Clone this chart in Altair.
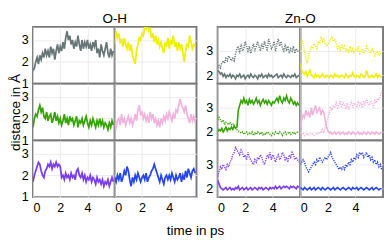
import altair as alt
import pandas as pd

# time axis (ps), sampled every 0.1 ps
t = [round(i * 0.1, 1) for i in range(60)]

# ---------- O-H distances (Å) ----------
oh_gray = [1.6, 1.7, 2.0, 2.2, 1.9, 2.3, 2.1, 2.4, 2.2, 2.6,
           2.3, 2.5, 2.2, 2.7, 2.4, 2.6, 2.1, 2.5, 2.8, 2.4,
           2.7, 2.5, 2.9, 2.6, 3.1, 3.4, 3.0, 3.2, 2.8, 3.0,
           2.6, 2.9, 2.7, 3.2, 2.8, 2.5, 3.0, 2.6, 2.9, 2.7,
           3.0, 2.6, 2.8, 2.5, 2.9, 2.7, 3.0, 2.4, 2.6, 2.2,
           2.8, 2.5, 2.3, 2.6, 2.9, 2.4, 2.2, 2.6, 2.3, 2.5]
oh_yellow = [2.8, 3.4, 3.1, 3.3, 2.9, 3.0, 2.7, 3.1, 2.8, 2.6,
             2.9, 2.5, 2.8, 2.3, 2.1, 1.9, 2.5, 2.8, 3.1, 3.0,
             3.3, 3.2, 3.6, 3.5, 3.6, 3.4, 3.5, 3.1, 3.3, 2.9,
             3.2, 2.8, 3.0, 2.7, 2.9, 2.6, 2.4, 2.9, 2.7, 3.1,
             2.6, 3.0, 2.8, 3.2, 2.7, 2.9, 2.5, 2.9, 2.6, 2.8,
             2.4, 2.0, 2.5, 2.8, 2.7, 3.2, 2.9, 2.6, 2.8, 2.7]
oh_green = [1.6, 2.0, 2.2, 2.1, 2.4, 2.6, 2.3, 2.5, 2.1, 2.0,
            2.3, 1.9, 2.1, 2.2, 1.8, 2.0, 2.3, 1.9, 2.1, 1.8,
            2.0, 1.7, 1.9, 2.2, 1.8, 2.0, 1.7, 2.1, 1.9, 2.0,
            1.7, 1.9, 2.1, 1.6, 1.9, 1.8, 2.0, 1.7, 1.9, 2.1,
            1.8, 1.6, 1.9, 1.7, 2.0, 1.8, 1.6, 1.9, 1.7, 2.0,
            1.7, 1.9, 1.6, 1.8, 1.7, 1.5, 1.8, 1.6, 1.9, 1.7]
oh_pink = [1.8, 1.6, 1.9, 2.0, 1.7, 2.2, 1.8, 2.0, 1.7, 1.9,
           2.1, 1.8, 2.0, 1.7, 1.9, 2.2, 1.9, 2.4, 2.6, 2.2,
           2.3, 2.0, 2.2, 1.9, 2.1, 1.8, 2.3, 2.0, 2.2, 1.8,
           2.0, 1.7, 1.9, 1.6, 2.0, 1.8, 2.1, 1.9, 2.2, 2.0,
           2.3, 2.1, 1.9, 2.2, 2.0, 2.4, 2.3, 2.6, 2.9, 2.6,
           2.5, 2.3, 2.6, 2.2, 2.0, 1.8, 2.2, 1.9, 2.1, 1.8]
oh_purple = [1.7, 2.0, 2.2, 2.4, 2.6, 2.5, 2.2, 2.0, 1.9, 2.2,
             2.3, 2.5, 2.4, 2.6, 2.3, 2.5, 2.4, 2.6, 2.4, 2.5,
             2.4, 1.9, 2.0, 1.8, 2.1, 1.9, 2.0, 1.8, 2.1, 1.9,
             2.0, 1.8, 2.2, 2.3, 2.0, 1.9, 2.1, 1.8, 2.0, 1.7,
             1.9, 1.8, 2.0, 1.7, 1.9, 1.8, 1.6, 1.9, 1.7, 1.8,
             1.6, 1.8, 1.5, 1.7, 1.6, 1.8, 1.5, 1.7, 1.9, 1.7]
oh_blue = [1.9, 1.7, 2.0, 1.8, 2.1, 1.7, 1.9, 2.2, 2.0, 2.4,
           2.2, 1.8, 1.5, 1.9, 1.7, 2.0, 1.8, 2.1, 1.9, 1.7,
           1.9, 2.0, 1.8, 2.1, 1.7, 1.9, 2.0, 2.2, 2.3, 2.5,
           2.3, 2.1, 1.9, 1.7, 2.0, 1.8, 1.6, 1.9, 2.0, 1.8,
           2.0, 1.8, 2.1, 1.9, 1.7, 2.0, 1.8, 1.9, 2.1, 1.7,
           2.0, 1.8, 2.2, 1.9, 2.3, 2.1, 1.9, 2.2, 2.3, 2.1]

# ---------- Zn-O distances (Å): solid and dotted ----------
zn_gray_solid = [2.2, 2.15, 2.05, 2.1, 1.95, 2.05, 1.9, 2.0, 1.95, 2.05,
                 1.9, 2.0, 1.95, 1.85, 2.0, 1.95, 2.05, 1.9, 1.95, 2.0,
                 1.85, 1.95, 2.0, 1.9, 2.05, 1.95, 1.9, 2.0, 1.95, 1.85,
                 2.0, 1.95, 2.05, 1.9, 1.95, 2.0, 1.9, 2.05, 1.95, 2.0,
                 1.9, 1.95, 2.0, 2.05, 1.9, 1.95, 2.0, 1.9, 2.05, 1.95,
                 1.9, 2.0, 1.95, 1.9, 2.0, 1.95, 2.05, 1.9, 1.95, 2.0]
zn_gray_dot = [2.3, 2.4, 2.3, 2.5, 2.6, 2.5, 2.7, 2.6, 2.8, 2.7,
               2.6, 2.7, 2.6, 2.9, 3.1, 3.2, 2.9, 3.3, 3.0, 3.1,
               3.4, 3.2, 3.0, 3.2, 2.9, 3.1, 3.3, 3.0, 3.2, 3.4,
               3.2, 3.0, 3.3, 3.1, 3.4, 3.2, 3.0, 3.5, 3.3, 3.1,
               3.2, 3.4, 3.0, 3.3, 3.5, 3.2, 3.4, 3.1, 3.0, 3.3,
               3.0, 3.2, 2.9, 3.1, 3.0, 3.2, 2.9, 3.1, 3.0, 3.0]
zn_yellow_solid = [2.5, 2.2, 2.1, 2.05, 2.15, 1.95, 2.1, 2.2, 2.0, 1.95,
                   1.9, 2.05, 1.95, 2.0, 1.9, 1.95, 2.05, 1.95, 1.9, 2.0,
                   1.95, 1.9, 2.0, 1.95, 1.9, 2.05, 1.95, 2.0, 1.9, 1.95,
                   2.0, 1.95, 1.9, 2.05, 1.95, 1.9, 2.0, 1.95, 2.1, 1.95,
                   1.9, 2.0, 1.95, 1.9, 2.05, 2.0, 1.9, 1.95, 2.2, 2.0,
                   1.9, 1.95, 2.0, 1.9, 1.95, 2.05, 1.9, 2.0, 1.95, 1.9]
zn_yellow_dot = [3.0, 3.5, 3.3, 3.0, 2.7, 2.5, 2.8, 3.0, 3.2, 3.1,
                 3.3, 3.2, 3.1, 3.4, 3.3, 3.6, 3.4, 3.5, 3.3, 3.2,
                 3.3, 3.4, 3.5, 3.6, 3.4, 3.5, 3.3, 3.1, 3.2, 3.0,
                 3.3, 3.1, 3.2, 3.0, 3.1, 2.9, 3.2, 3.0, 3.1, 2.9,
                 3.1, 3.0, 3.2, 2.9, 3.0, 3.1, 2.9, 3.0, 3.2, 3.1,
                 3.0, 2.9, 3.1, 3.0, 2.8, 2.9, 3.0, 2.8, 2.9, 2.9]
zn_green_solid = [2.0, 2.1, 2.05, 2.15, 2.0, 2.1, 2.2, 2.05, 2.15, 2.1,
                  2.2, 2.1, 2.25, 2.15, 2.2, 2.9, 3.1, 3.3, 3.2, 3.4,
                  3.2, 3.3, 3.1, 3.35, 3.2, 3.3, 3.15, 3.25, 3.4, 3.2,
                  3.3, 3.1, 3.25, 3.35, 3.2, 3.3, 3.15, 3.3, 3.2, 3.1,
                  3.25, 3.2, 3.3, 3.4, 3.25, 3.5, 3.3, 3.2, 3.4, 3.3,
                  3.5, 3.3, 3.2, 3.4, 3.3, 3.15, 3.25, 3.1, 3.2, 3.1]
zn_green_dot = [2.5, 2.6, 2.5, 2.4, 2.5, 2.3, 2.4, 2.35, 2.3, 2.4,
                2.3, 2.35, 2.25, 2.2, 2.1, 2.05, 2.0, 1.95, 2.0, 1.9,
                1.95, 2.0, 1.9, 1.95, 1.9, 2.0, 1.85, 1.95, 1.9, 2.0,
                1.95, 1.9, 2.0, 1.85, 1.95, 1.9, 2.0, 1.95, 1.9, 1.85,
                1.95, 1.9, 2.0, 1.95, 1.9, 2.0, 1.95, 1.85, 1.95, 2.0,
                1.9, 1.95, 2.0, 1.9, 1.95, 2.0, 1.9, 1.95, 2.0, 2.0]
zn_pink_solid = [2.2, 2.5, 2.7, 2.6, 2.9, 2.7, 2.8, 2.6, 3.0, 2.7,
                 2.9, 3.1, 2.8, 2.9, 3.0, 2.7, 2.9, 2.8, 2.5, 2.2,
                 2.05, 1.95, 2.0, 1.9, 1.95, 2.0, 1.9, 1.95, 2.0, 1.9,
                 1.95, 2.0, 1.9, 1.95, 1.9, 2.0, 1.95, 1.9, 2.0, 1.95,
                 1.9, 1.95, 2.0, 1.9, 1.95, 1.9, 2.0, 1.95, 1.9, 2.0,
                 1.95, 1.9, 2.0, 1.95, 1.9, 2.0, 1.95, 1.9, 1.95, 2.0]
zn_pink_dot = [2.0, 1.9, 1.95, 1.85, 1.9, 1.95, 1.85, 1.9, 1.95, 1.9,
               1.85, 1.9, 1.95, 1.9, 2.0, 1.95, 2.1, 2.0, 2.2, 2.4,
               2.6, 2.8, 3.0, 2.9, 3.1, 3.0, 3.2, 3.0, 3.1, 3.3,
               3.0, 3.2, 3.1, 3.0, 3.2, 2.9, 3.1, 3.3, 3.0, 3.2,
               3.1, 3.0, 3.3, 3.1, 3.2, 3.0, 3.3, 3.1, 3.4, 3.2,
               3.1, 3.3, 3.2, 3.0, 3.3, 3.2, 3.4, 3.3, 3.5, 3.7]
zn_purple_solid = [2.35, 2.2, 2.05, 2.0, 1.95, 2.0, 2.05, 1.95, 2.0, 2.05,
                   1.95, 2.0, 1.95, 2.05, 2.0, 2.1, 1.95, 2.0, 2.05, 1.95,
                   2.0, 2.05, 1.95, 2.0, 2.05, 1.95, 2.0, 2.05, 2.0, 1.95,
                   2.05, 2.0, 2.05, 1.95, 2.0, 2.05, 2.0, 1.95, 2.05, 2.0,
                   2.05, 2.0, 2.1, 2.0, 2.05, 2.1, 2.0, 2.05, 2.1, 2.05,
                   2.1, 2.05, 2.0, 2.1, 2.05, 2.1, 2.05, 2.0, 2.1, 2.05]
zn_purple_dot = [2.5, 2.7, 2.9, 2.8, 3.0, 2.9, 2.8, 3.0, 2.9, 3.1,
                 3.2, 3.4, 3.5, 3.7, 3.6, 3.5, 3.4, 3.6, 3.5, 3.3,
                 3.4, 3.2, 3.5, 3.3, 3.2, 3.1, 3.0, 3.2, 3.1, 3.3,
                 3.2, 3.4, 3.3, 3.1, 3.0, 3.2, 3.4, 3.3, 3.5, 3.2,
                 3.4, 3.3, 3.1, 3.3, 3.4, 3.2, 3.3, 3.5, 3.4, 3.2,
                 3.3, 3.1, 3.4, 3.3, 3.5, 3.4, 3.2, 3.3, 3.2, 3.1]
zn_blue_solid = [2.05, 2.0, 1.95, 2.05, 2.0, 1.95, 2.0, 2.05, 1.95, 2.0,
                 2.05, 1.95, 2.0, 2.05, 2.0, 1.95, 2.05, 2.0, 1.95, 2.0,
                 2.05, 2.0, 1.95, 2.0, 2.05, 1.95, 2.0, 2.05, 2.0, 1.95,
                 2.0, 2.05, 2.0, 1.95, 2.0, 2.05, 2.0, 1.95, 2.05, 2.0,
                 2.0, 2.05, 1.95, 2.0, 2.05, 2.0, 1.95, 2.0, 2.05, 2.0,
                 1.95, 2.0, 2.05, 1.95, 2.0, 2.05, 2.0, 1.95, 2.0, 2.0]
zn_blue_dot = [3.0, 3.1, 3.2, 3.1, 2.9, 2.8, 2.7, 2.8, 2.9, 3.0,
               3.1, 3.0, 3.2, 3.1, 3.3, 3.2, 3.1, 3.2, 3.3, 3.2,
               3.3, 3.4, 3.5, 3.3, 3.2, 3.1, 3.0, 2.9, 2.8, 2.9,
               2.8, 2.9, 2.8, 3.0, 2.9, 3.1, 3.0, 3.2, 3.1, 3.3,
               3.2, 3.4, 3.3, 3.5, 3.4, 3.5, 3.3, 3.4, 3.5, 3.3,
               3.4, 3.2, 3.3, 3.1, 3.2, 3.0, 3.1, 2.9, 3.0, 2.8]

panel_names = ["gray", "yellow", "green", "pink", "purple", "blue"]
panel_colors = ["#667676", "#f0f000", "#34a400", "#f2b2de", "#7a3cf0", "#2545f0"]
panel_pos = {"gray": (1, 1), "yellow": (1, 2), "green": (2, 1),
             "pink": (2, 2), "purple": (3, 1), "blue": (3, 2)}


def frame(series):
    recs = []
    for name, kind, vals in series:
        r, c = panel_pos[name]
        for ti, v in zip(t, vals):
            recs.append({"t": ti, "v": v, "p": name, "k": kind, "r": r, "c": c})
    return pd.DataFrame(recs)


oh_df = frame([
    ("gray", "thick", oh_gray), ("yellow", "thick", oh_yellow),
    ("green", "thick", oh_green), ("pink", "thick", oh_pink),
    ("purple", "thick", oh_purple), ("blue", "thick", oh_blue),
])
zn_df = frame([
    ("gray", "dotted", zn_gray_dot), ("gray", "solid", zn_gray_solid),
    ("yellow", "dotted", zn_yellow_dot), ("yellow", "solid", zn_yellow_solid),
    ("green", "dotted", zn_green_dot), ("green", "solid", zn_green_solid),
    ("pink", "dotted", zn_pink_dot), ("pink", "solid", zn_pink_solid),
    ("purple", "dotted", zn_purple_dot), ("purple", "solid", zn_purple_solid),
    ("blue", "dotted", zn_blue_dot), ("blue", "solid", zn_blue_solid),
])

FONT = "Liberation Sans"
KINDS = ["thick", "solid", "dotted"]


def grid(df, ydom, yticks, title, ytitle, w):
    base = alt.Chart(df).mark_line(clip=True).encode(
        x=alt.X("t:Q", scale=alt.Scale(domain=[0, 6], nice=False),
                axis=alt.Axis(values=[0, 2, 4], title=None, format="d")),
        y=alt.Y("v:Q", scale=alt.Scale(domain=ydom, nice=False, zero=False),
                axis=alt.Axis(values=yticks, title=None, format="d")),
        color=alt.Color("p:N", scale=alt.Scale(domain=panel_names, range=panel_colors), legend=None),
        strokeDash=alt.StrokeDash("k:N", scale=alt.Scale(domain=KINDS,
                                                         range=[[1, 0], [1, 0], [1.2, 1.2]]), legend=None),
        strokeWidth=alt.StrokeWidth("k:N", scale=alt.Scale(domain=KINDS,
                                                           range=[1.8, 1.5, 1.1]), legend=None),
        detail="k:N",
    ).properties(width=w, height=59)
    if ytitle:
        row = alt.Row("r:O", title=ytitle,
                      header=alt.Header(labels=False, titleFontSize=14, titleFont=FONT,
                                        titleFontWeight="normal", titlePadding=-12,
                                        labelPadding=0))
    else:
        row = alt.Row("r:O", title=None, header=alt.Header(labels=False, labelPadding=0))
    col = alt.Column("c:O", title=title,
                     header=alt.Header(labels=False, titleFontSize=14, titleFont=FONT,
                                       titleFontWeight="normal", titlePadding=-9,
                                       labelPadding=0))
    return base.facet(row=row, column=col, spacing=0).properties(bounds="flush")


left = grid(oh_df, [1, 3.6], [1, 2, 3], "O-H", "distance in Å", 85)
right = grid(zn_df, [1.65, 4.0], [2, 3], "Zn-O", None, 86)

chart = alt.hconcat(left, right, spacing=8).properties(
    padding={"top": 0, "left": 0, "right": 0, "bottom": 0},
    title=alt.TitleParams("time in ps", orient="bottom", anchor="middle", dx=-1,
                          fontSize=14, font=FONT, fontWeight="normal", offset=10),
).configure_view(
    stroke="#7a7a7a", strokeWidth=2
).configure_axis(
    grid=True, gridColor="#e6e6e6", gridWidth=0.8, ticks=False, domain=False,
    labelFont=FONT, labelFontSize=13, labelColor="black", labelPadding=5,
).configure_facet(spacing=0)

chart.save("out.html", embed_options={"renderer": "svg", "actions": False})
